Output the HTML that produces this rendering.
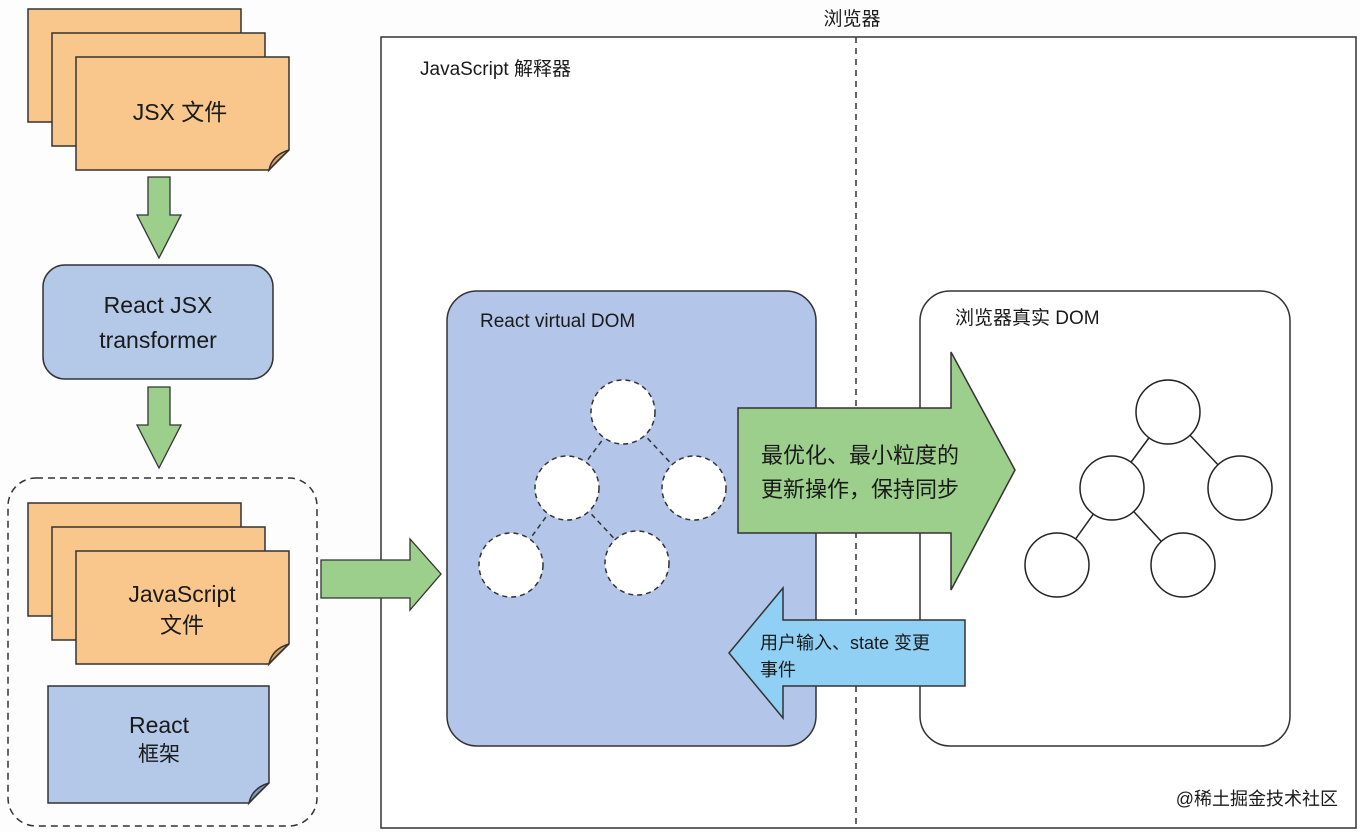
<!DOCTYPE html>
<html><head><meta charset="utf-8"><style>
html,body{margin:0;padding:0;background:#fdfdfd}
svg{display:block}
text{font-family:"Liberation Sans","Noto Sans CJK SC",sans-serif;fill:#1a1a1a}
</style></head><body>
<svg width="1360" height="832" viewBox="0 0 1360 832" xmlns="http://www.w3.org/2000/svg">
<rect width="1360" height="832" fill="#fdfdfd"/>
<!-- browser box -->
<rect x="381" y="37" width="975" height="791" fill="#fff" stroke="#333" stroke-width="1.5"/>
<line x1="856" y1="37" x2="856" y2="828" stroke="#333" stroke-width="1.5" stroke-dasharray="6,5"/>
<text x="852" y="25" font-size="19" text-anchor="middle">浏览器</text>
<text x="420" y="75" font-size="19">JavaScript 解释器</text>

<!-- JSX files -->
<g stroke="#333" stroke-width="1.5" fill="#f9c68c">
<rect x="28" y="9" width="213" height="113"/>
<rect x="52" y="33" width="213" height="113"/>
<path d="M76 57 H289 V150 L269 170 H76 Z"/>
<path d="M269 170 Q272 155 289 150 Q278 160 269 170Z" fill="#d9a060"/>
</g>
<text x="180" y="120" font-size="23" text-anchor="middle">JSX 文件</text>

<!-- down arrows -->
<g fill="#9dcf8c" stroke="#333" stroke-width="1.3">
<path d="M148 177 H170 V215 H181 L159 258 L137 215 H148 Z"/>
<path d="M148 387 H170 V425 H181 L159 468 L137 425 H148 Z"/>
</g>

<!-- transformer -->
<rect x="43" y="265" width="230" height="114" rx="22" fill="#b4c8e8" stroke="#333" stroke-width="1.5"/>
<text x="158" y="313" font-size="23" text-anchor="middle">React JSX</text>
<text x="158" y="348" font-size="23" text-anchor="middle">transformer</text>

<!-- dashed group -->
<rect x="8" y="478" width="309" height="348" rx="28" fill="none" stroke="#333" stroke-width="1.5" stroke-dasharray="7,5"/>
<g stroke="#333" stroke-width="1.5" fill="#f9c68c">
<rect x="28" y="503" width="213" height="113"/>
<rect x="52" y="527" width="213" height="113"/>
<path d="M76 551 H289 V644 L269 664 H76 Z"/>
<path d="M269 664 Q272 649 289 644 Q278 654 269 664Z" fill="#d9a060"/>
</g>
<text x="182" y="602" font-size="23" text-anchor="middle">JavaScript</text>
<text x="182" y="633" font-size="22" text-anchor="middle">文件</text>
<g stroke="#333" stroke-width="1.5" fill="#b4c8e8">
<path d="M48 686 H269 V783 L249 803 H48 Z"/>
<path d="M249 803 Q252 788 269 783 Q258 793 249 803Z" fill="#7f9ac4"/>
</g>
<text x="159" y="733" font-size="23" text-anchor="middle">React</text>
<text x="159" y="761" font-size="21" text-anchor="middle">框架</text>

<!-- right arrow -->
<path d="M321 560 H410 V539 L441 574 L410 610 V598 H321 Z" fill="#9dcf8c" stroke="#333" stroke-width="1.3"/>

<!-- virtual DOM -->
<rect x="447" y="291" width="369" height="455" rx="30" fill="#b3c6e9" stroke="#333" stroke-width="1.5"/>
<text x="480" y="327" font-size="19">React virtual DOM</text>
<g stroke="#333" stroke-width="1.5" stroke-dasharray="5,4">
<line x1="623" y1="412" x2="567" y2="488"/>
<line x1="623" y1="412" x2="694" y2="488"/>
<line x1="567" y1="488" x2="511" y2="565"/>
<line x1="567" y1="488" x2="637" y2="563"/>
<g fill="#fff">
<circle cx="623" cy="412" r="32"/><circle cx="567" cy="488" r="32"/><circle cx="694" cy="488" r="32"/>
<circle cx="511" cy="565" r="32"/><circle cx="637" cy="563" r="32"/>
</g></g>

<!-- real DOM -->
<rect x="920" y="291" width="370" height="455" rx="30" fill="#fff" stroke="#333" stroke-width="1.5"/>
<text x="955" y="324" font-size="19" fill="#333">浏览器真实 DOM</text>
<g stroke="#222" stroke-width="1.5" fill="#fff">
<line x1="1168" y1="412" x2="1112" y2="488"/>
<line x1="1168" y1="412" x2="1240" y2="488"/>
<line x1="1112" y1="488" x2="1057" y2="565"/>
<line x1="1112" y1="488" x2="1183" y2="565"/>
<circle cx="1168" cy="412" r="32"/><circle cx="1112" cy="488" r="32"/><circle cx="1240" cy="488" r="32"/>
<circle cx="1057" cy="565" r="32"/><circle cx="1183" cy="565" r="32"/>
</g>

<!-- big green arrow -->
<path d="M738 408 H951 V352 L1015 470 L951 590 V533 H738 Z" fill="#9dcf8c" stroke="#333" stroke-width="1.5"/>
<text x="761" y="463" font-size="22" fill="#1e3a1e">最优化、最小粒度的</text>
<text x="761" y="497" font-size="22" fill="#1e3a1e">更新操作，保持同步</text>

<!-- blue arrow -->
<path d="M965 620 H783 V588 L729 653 L783 718 V686 H965 Z" fill="#8fd0f4" stroke="#333" stroke-width="1.5"/>
<text x="760" y="649" font-size="18" fill="#1a2a4a">用户输入、state 变更</text>
<text x="760" y="676" font-size="18" fill="#1a2a4a">事件</text>

<text x="1338" y="805" font-size="18" text-anchor="end" fill="#aaa">@稀土掘金技术社区</text>
</svg>
</body></html>
